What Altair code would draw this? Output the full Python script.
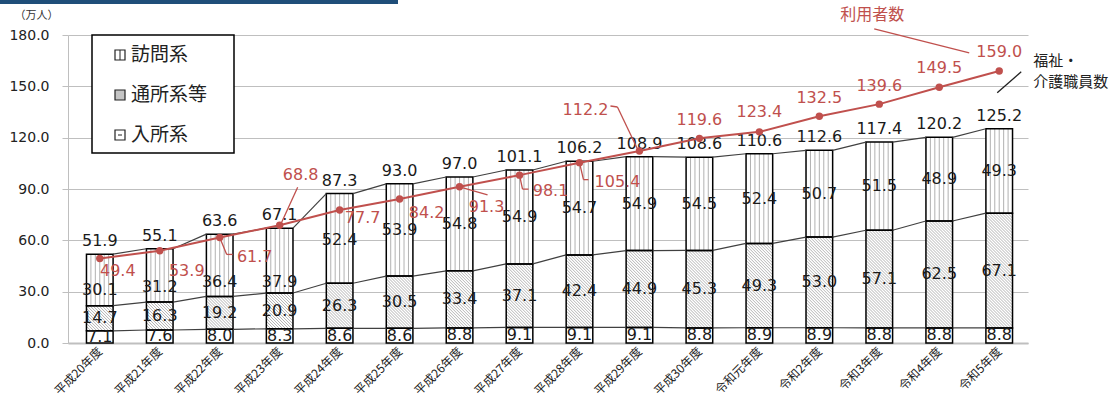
import json
import altair as alt
import pandas as pd

# ---------------- data ----------------
years = ["平成20年度", "平成21年度", "平成22年度", "平成23年度", "平成24年度", "平成25年度",
         "平成26年度", "平成27年度", "平成28年度", "平成29年度", "平成30年度", "令和元年度",
         "令和2年度", "令和3年度", "令和4年度", "令和5年度"]
nyusho = [7.1, 7.6, 8.0, 8.3, 8.6, 8.6, 8.8, 9.1, 9.1, 9.1, 8.8, 8.9, 8.9, 8.8, 8.8, 8.8]
tsusho = [14.7, 16.3, 19.2, 20.9, 26.3, 30.5, 33.4, 37.1, 42.4, 44.9, 45.3, 49.3, 53.0, 57.1, 62.5, 67.1]
homon = [30.1, 31.2, 36.4, 37.9, 52.4, 53.9, 54.8, 54.9, 54.7, 54.9, 54.5, 52.4, 50.7, 51.5, 48.9, 49.3]
totals = [51.9, 55.1, 63.6, 67.1, 87.3, 93.0, 97.0, 101.1, 106.2, 108.9, 108.6, 110.6, 112.6, 117.4, 120.2, 125.2]
users = [49.4, 53.9, 61.7, 68.8, 77.7, 84.2, 91.3, 98.1, 105.4, 112.2, 119.6, 123.4, 132.5, 139.6, 149.5, 159.0]
series_names = ["訪問系", "通所系等", "入所系"]

# ---------------- layout / style ----------------
W, H = 960, 308
XMIN, XMAX = -0.53, 15.48
YMAX = 180
HW = 0.222                      # half bar width (x units)
PXX = W / (XMAX - XMIN)         # px per x unit
PXY = H / YMAX                  # px per y unit
RED = "#c0504d"
NUMFONT = "DejaVu Sans"
JPFONT = "Noto Sans CJK JP"
NUMSIZE = 16

# label offsets (px) for the 利用者数 labels, relative to each point
user_lbl_off = [(18, 13), (27, 20), (35, 20), (21, -50), (23, 8), (27, 14), (27, 20), (31, 16),
                (38, 19), (-54, -41), (0, -18), (0, -20), (0, -18), (0, -18), (0, -19), (0, -19)]
# leader polylines (px offsets relative to point), index -> list of vertices
user_leaders = {
    2: [(0, 0), (7, 17), (13, 17)],
    3: [(2, -3), (18, -38)],
    6: [(0, 0), (28, 8)],
    7: [(0, 0), (3, 14), (9, 14)],
    8: [(0, 0), (4, 17), (9, 17)],
    9: [(-1, 0), (-22, -44), (-29, -45)],
}
# downward nudge (px) of the 訪問系 labels (reference moved a few to avoid red labels)
homon_lbl_dy = [10, 12, 17, 21, 2, 0, 0, 0, 0, 0, 0, 0, 0, 0, 0, 0]

n = len(years)
idx = list(range(n))
cum1 = nyusho
cum2 = [a + b for a, b in zip(nyusho, tsusho)]


def to_data(i, v, dxp, dyp):
    return i + dxp / PXX, v - dyp / PXY


# segments
seg_rows = []
for i in idx:
    for name, lo, hi, val, nud in [("入所系", 0, cum1[i], nyusho[i], 0),
                                   ("通所系等", cum1[i], cum2[i], tsusho[i], 0),
                                   ("訪問系", cum2[i], totals[i], homon[i], homon_lbl_dy[i])]:
        seg_rows.append(dict(i=i, xl=i - HW, xr=i + HW, lo=lo, hi=hi,
                             mid=(lo + hi) / 2 - nud / PXY,
                             series=name, label=f"{val:.1f}"))
seg = pd.DataFrame(seg_rows)

# vertical stripes for 訪問系
vs_rows = []
NSTR = 6
for i in idx:
    for j in range(1, NSTR):
        x = i - HW + j * (2 * HW / NSTR)
        vs_rows.append(dict(x=x, x2=x, y=cum2[i], y2=totals[i]))
vstripes = pd.DataFrame(vs_rows)

# diagonal hatch for 通所系等
D = 2 * HW * PXX / PXY          # y drop across bar width (45 deg in px)
STEP = 3.0 / PXY
dg_rows = []
for i in idx:
    lo, hi = cum1[i], cum2[i]
    xL, xR = i - HW, i + HW
    c = lo + STEP * 0.5
    while c < hi + D:
        if c > hi:
            xs, ys = xL + (c - hi) / D * (2 * HW), hi
        else:
            xs, ys = xL, c
        if c - D < lo:
            xe, ye = xL + (c - lo) / D * (2 * HW), lo
        else:
            xe, ye = xR, c - D
        if xe > xs:
            dg_rows.append(dict(x=xs, x2=xe, y=ys, y2=ye))
        c += STEP
diag = pd.DataFrame(dg_rows)

# series (connector) lines between bars
sl_rows = []
for level in [cum1, cum2, totals]:
    for i in range(n - 1):
        sl_rows.append(dict(x=i + HW, x2=i + 1 - HW, y=level[i], y2=level[i + 1]))
slines = pd.DataFrame(sl_rows)

tot = pd.DataFrame(dict(i=idx, total=totals, label=[f"{v:.1f}" for v in totals]))

usr = pd.DataFrame(dict(i=idx, users=users))
ul_rows = []
for i in idx:
    lx, ly = to_data(i, users[i], *user_lbl_off[i])
    ul_rows.append(dict(lx=lx, ly=ly, label=f"{users[i]:.1f}"))
ulabels = pd.DataFrame(ul_rows)

ld_rows = []
for i, pts in user_leaders.items():
    for (a, b), (c2, d2) in zip(pts[:-1], pts[1:]):
        x1, y1 = to_data(i, users[i], a, b)
        x2, y2 = to_data(i, users[i], c2, d2)
        ld_rows.append(dict(x=x1, x2=x2, y=y1, y2=y2))
last = n - 1
# 利用者数 title leader
x1, y1 = to_data(last, users[last], -125, -42)
x2, y2 = to_data(last, users[last], -30, -18)
ld_rows.append(dict(x=x1, x2=x2, y=y1, y2=y2))
leaders_red = pd.DataFrame(ld_rows)

tx, ty = to_data(last, users[last], -127, -56)
user_title = pd.DataFrame([dict(lx=tx, ly=ty, label="利用者数")])

s1x, s1y = to_data(last, totals[last], 34, -68)
s2x, s2y = to_data(last, totals[last], 34, -47)
staff_title = pd.DataFrame([dict(lx=s1x, ly=s1y, label="福祉・"), dict(lx=s2x, ly=s2y, label="介護職員数")])
a1x, a1y = to_data(last, totals[last], -2, -36)
a2x, a2y = to_data(last, totals[last], 22, -57)
staff_leader = pd.DataFrame([dict(x=a1x, x2=a2x, y=a1y, y2=a2y)])

# ---------------- scales / axes ----------------
xscale = alt.Scale(domain=[XMIN, XMAX], nice=False, zero=False)
yscale = alt.Scale(domain=[0, YMAX], nice=False)
label_expr = json.dumps(years, ensure_ascii=False) + "[datum.value]"
xaxis = alt.Axis(values=idx, labelExpr=label_expr, labelAngle=-45, labelAlign="right",
                 labelBaseline="middle", labelFont=JPFONT, labelFontSize=12, labelColor="#222",
                 labelPadding=6, ticks=False, grid=False, domainColor="#bfbfbf", domainWidth=2,
                 title=None)
yaxis = alt.Axis(values=[0, 30, 60, 90, 120, 150, 180], format=".1f", labelFont=NUMFONT,
                 labelFontSize=14, labelColor="#222", labelPadding=13, tickSize=6,
                 tickColor="#bfbfbf", domainColor="#bfbfbf", gridColor="#bfbfbf", gridWidth=1.2,
                 title="（万人）", titleAngle=0, titleFont=JPFONT, titleFontSize=11,
                 titleFontWeight="normal", titleColor="#333", titleX=-32, titleY=-20,
                 titleAlign="center", titleBaseline="middle")


def X(f):
    return alt.X(f, type="quantitative", scale=xscale, axis=xaxis)


def Y(f):
    return alt.Y(f, type="quantitative", scale=yscale, axis=yaxis)


# ---------------- layers ----------------
bars_fill = alt.Chart(seg).mark_rect(fill="white", stroke=None).encode(
    x=X("xl"), x2="xr", y=Y("lo"), y2="hi")
vs_layer = alt.Chart(vstripes).mark_rule(color="#a8a8a8", strokeWidth=0.9).encode(
    x=X("x"), x2="x2", y=Y("y"), y2="y2")
dg_layer = alt.Chart(diag).mark_rule(color="#a0a0a0", strokeWidth=0.8).encode(
    x=X("x"), x2="x2", y=Y("y"), y2="y2")
bars_out = alt.Chart(seg).mark_rect(fill="white", fillOpacity=0, stroke="black", strokeWidth=1.5).encode(
    x=X("xl"), x2="xr", y=Y("lo"), y2="hi")
sl_layer = alt.Chart(slines).mark_rule(color="#404040", strokeWidth=1.2).encode(
    x=X("x"), x2="x2", y=Y("y"), y2="y2")
seg_text = alt.Chart(seg).mark_text(font=NUMFONT, fontSize=NUMSIZE, color="#1a1a1a").encode(
    x=X("i"), y=Y("mid"), text="label:N")
tot_text = alt.Chart(tot).mark_text(font=NUMFONT, fontSize=NUMSIZE, color="#1a1a1a", dy=-13).encode(
    x=X("i"), y=Y("total"), text="label:N")
u_line = alt.Chart(usr).mark_line(color=RED, strokeWidth=2).encode(x=X("i"), y=Y("users"))
u_pts = alt.Chart(usr).mark_circle(color=RED, size=55, opacity=1).encode(x=X("i"), y=Y("users"))
u_text = alt.Chart(ulabels).mark_text(font=NUMFONT, fontSize=NUMSIZE, color=RED).encode(
    x=X("lx"), y=Y("ly"), text="label:N")
u_lead = alt.Chart(leaders_red).mark_rule(color=RED, strokeWidth=1.3).encode(
    x=X("x"), x2="x2", y=Y("y"), y2="y2")
u_title = alt.Chart(user_title).mark_text(font=JPFONT, fontSize=16, color=RED).encode(
    x=X("lx"), y=Y("ly"), text="label:N")
s_title = alt.Chart(staff_title).mark_text(font=JPFONT, fontSize=15, color="#222", align="left").encode(
    x=X("lx"), y=Y("ly"), text="label:N")
s_lead = alt.Chart(staff_leader).mark_rule(color="#222", strokeWidth=1.3).encode(
    x=X("x"), x2="x2", y=Y("y"), y2="y2")

# ---------------- legend (pixel layout) ----------------
one = pd.DataFrame([{"k": 0}])
leg_box = alt.Chart(one).mark_rect(fill="white", stroke="black", strokeWidth=1.5).encode(
    x=alt.value(24), x2=alt.value(166), y=alt.value(0), y2=alt.value(118))
legend_layers = [leg_box]
for k, name in enumerate(series_names):
    cy = 20 + 40 * k
    fill = "#c4c4c4" if name == "通所系等" else "white"
    legend_layers.append(alt.Chart(one).mark_rect(fill=fill, stroke="#222", strokeWidth=1.2).encode(
        x=alt.value(47), x2=alt.value(57), y=alt.value(cy - 5), y2=alt.value(cy + 5)))
    legend_layers.append(alt.Chart(one).mark_text(font=JPFONT, fontSize=19, color="#222",
                                                  align="left", baseline="middle").encode(
        x=alt.value(63), y=alt.value(cy), text=alt.value(name)))
legend_layers.append(alt.Chart(one).mark_rule(color="#222", strokeWidth=1).encode(
    x=alt.value(52), x2=alt.value(52), y=alt.value(15), y2=alt.value(25)))
legend_layers.append(alt.Chart(one).mark_rule(color="#222", strokeWidth=1).encode(
    x=alt.value(50), x2=alt.value(54), y=alt.value(100), y2=alt.value(100)))

band = alt.Chart(one).mark_rect(fill="#1f4e79").encode(
    x=alt.value(-68), x2=alt.value(330), y=alt.value(-35), y2=alt.value(-31))

chart = alt.layer(
    bars_fill, vs_layer, dg_layer, bars_out, sl_layer, seg_text, tot_text,
    u_line, u_pts, u_lead, u_text, u_title, s_lead, s_title, *legend_layers, band
).properties(
    width=W, height=H,
    autosize=alt.AutoSizeParams(type="none"),
    padding={"left": 68, "top": 35, "right": 92, "bottom": 58},
    background="white",
).configure_view(stroke=None)

chart.save("out.html", embed_options={"renderer": "svg", "actions": False})
